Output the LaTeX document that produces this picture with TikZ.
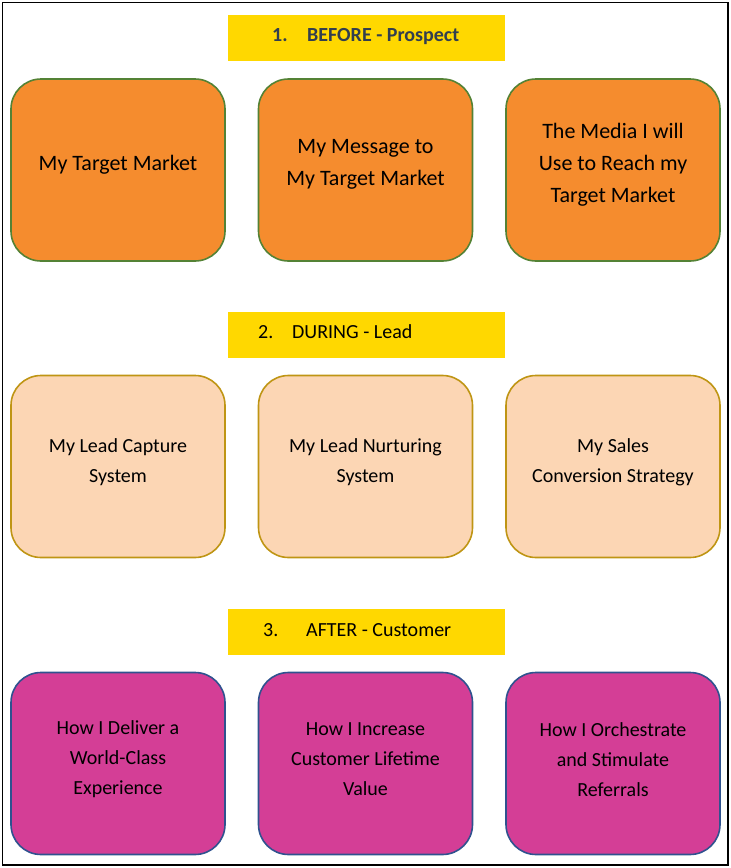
\documentclass[tikz,border=0pt]{standalone}
\usepackage{fontspec}
\setmainfont{Carlito}
\usetikzlibrary{positioning}
\definecolor{bandyellow}{RGB}{255,216,0}
\definecolor{headink}{RGB}{50,62,79}
\definecolor{prospectfill}{RGB}{245,140,46}
\definecolor{prospectline}{RGB}{84,130,53}
\definecolor{leadfill}{RGB}{252,214,180}
\definecolor{leadline}{RGB}{191,149,20}
\definecolor{customerfill}{RGB}{212,62,150}
\definecolor{customerline}{RGB}{47,82,143}
\begin{document}
\begin{tikzpicture}%
	[x={(1pt, 0pt)},
	y={(0pt, -1pt)},
	frame/.style={draw=black, line width=1.3pt},
	band/.style={fill=bandyellow, minimum width=277pt, minimum height=46pt, inner sep=0pt},
	bandtext/.style={anchor=west, inner sep=0pt, font=\fontsize{20}{24}\selectfont},
	box/.style={rounded corners=30pt, line width=1.6pt, minimum width=214pt, minimum height=182pt, inner sep=0pt},
	prospectbox/.style={box, fill=prospectfill, draw=prospectline},
	leadbox/.style={box, fill=leadfill, draw=leadline},
	customerbox/.style={box, fill=customerfill, draw=customerline},
	boxtext/.style={align=center, inner sep=0pt, font=\fontsize{20}{30}\selectfont},
	bigtext/.style={align=center, inner sep=0pt, font=\fontsize{22}{32}\selectfont}]
%
\useasboundingbox (0,0) rectangle (731,868);
\draw[frame] (2.5,2.5) rectangle (728,865);
%%
%% Stage headers
%%
\node[band] (before) at (366.5,38) {};
\node[bandtext, font=\fontsize{20}{24}\selectfont\bfseries, text=headink] (before-text) at (272,37) {\makebox[35pt][l]{1.}BEFORE - Prospect};
\node[band] (during) at (366.5,335) {};
\node[bandtext] (during-text) at (258,332) {\makebox[34pt][l]{2.}DURING - Lead};
\node[band] (after) at (366.5,632) {};
\node[bandtext] (after-text) at (263,630) {\makebox[43pt][l]{3.}AFTER - Customer};
%%
%% Before: prospect boxes
%%
\node[prospectbox] (market) at (118,170) {};
\node[prospectbox] (message) at (365.5,170) {};
\node[prospectbox] (media) at (613,170) {};
\node[bigtext] at ([yshift=5.5pt]market.center) {My Target Market};
\node[bigtext] at ([yshift=5.5pt]message.center) {My Message to\\My Target Market};
\node[bigtext] at ([yshift=5.5pt]media.center) {The Media I will\\Use to Reach my\\Target Market};
%%
%% During: lead boxes
%%
\node[leadbox] (capture) at (118,466.5) {};
\node[leadbox] (nurture) at (365.5,466.5) {};
\node[leadbox] (convert) at (613,466.5) {};
\node[boxtext] at ([yshift=4pt]capture.center) {My Lead Capture\\System};
\node[boxtext] at ([yshift=4pt]nurture.center) {My Lead Nurturing\\System};
\node[boxtext] at ([yshift=4pt]convert.center) {My Sales\\Conversion Strategy};
%%
%% After: customer boxes
%%
\node[customerbox] (deliver) at (118,763.5) {};
\node[customerbox] (lifetime) at (365.5,763.5) {};
\node[customerbox] (referral) at (613,763.5) {};
\node[boxtext] at ([yshift=4pt]deliver.center) {How I Deliver a\\World-Class\\Experience};
\node[boxtext] at ([yshift=4pt]lifetime.center) {How I Increase\\Customer Lifetime\\Value};
\node[boxtext] at ([yshift=4pt]referral.center) {How I Orchestrate\\and Stimulate\\Referrals};
\end{tikzpicture}
\end{document}
